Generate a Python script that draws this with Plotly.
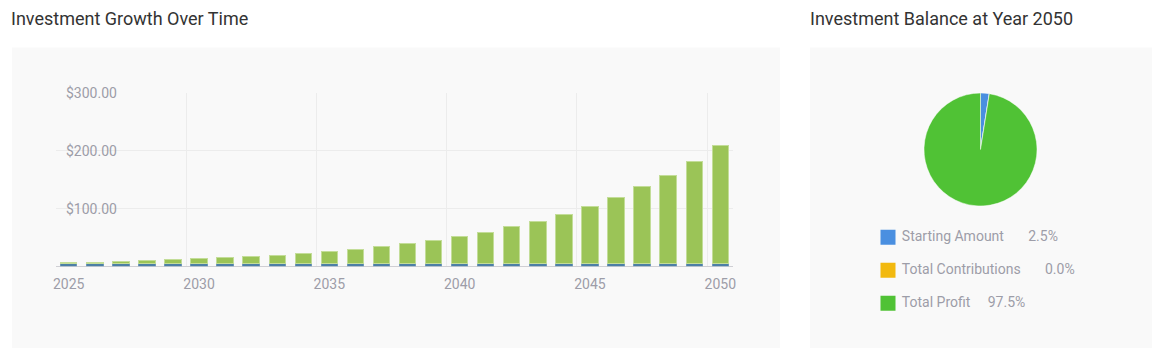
import plotly.graph_objects as go

W, H = 1155, 353

years = list(range(2025, 2051))
starting_amount = [5.25, 5.25, 5.25, 5.25, 5.25, 5.25, 5.25, 5.25, 5.25, 5.25, 5.25, 5.25, 5.25,
                   5.25, 5.25, 5.25, 5.25, 5.25, 5.25, 5.25, 5.25, 5.25, 5.25, 5.25, 5.25, 5.25]
contributions = [0, 0, 0, 0, 0, 0, 0, 0, 0, 0, 0, 0, 0, 0, 0, 0, 0, 0, 0, 0, 0, 0, 0, 0, 0, 0]
profit = [0.95, 2.15, 3.35, 4.45, 6.05, 7.75, 9.65, 11.65, 14.25, 16.75, 20.25, 24.25, 28.75,
          33.65, 39.35, 46.25, 53.95, 62.95, 73.25, 85.15, 98.35, 114.35, 132.35, 153.05, 177.05, 204.65]

x_tick_years = [2025, 2030, 2035, 2040, 2045, 2050]
y_tick_vals = [0, 100, 200, 300]
y_tick_text = ["", "$100.00", "$200.00", "$300.00"]

pie_labels = ["Starting Amount", "Total Contributions", "Total Profit"]
pie_values = [starting_amount[-1], contributions[-1], profit[-1]]
pie_colors = ["#4a8fe0", "#f2b90f", "#50c235"]
bar_colors = ["#4c7fa6", "#f2b90f", "#9bc457"]
bar_line_colors = ["#6d96b8", "#f2b90f", "#c3dd98"]

title_color = "#333333"
muted = "#9d9da8"
grid = "#ececec"
panel = "#f9f9f9"
FONT = "Roboto, 'Open Sans', Arial, sans-serif"


def px_x(v):
    return v / W


def px_y(v):
    return 1 - v / H


fig = go.Figure()

series = [("Starting Amount", starting_amount), ("Total Contributions", contributions), ("Total Profit", profit)]
for i, (name, vals) in enumerate(series):
    fig.add_trace(go.Bar(
        x=years, y=vals, name=name, marker=dict(color=bar_colors[i], line=dict(color=bar_line_colors[i], width=1)),
        showlegend=False, xaxis="x", yaxis="y",
    ))

# invisible traces so the helper axes (boundary gridlines, value labels) are drawn
fig.add_trace(go.Scatter(x=[years[0]], y=[0], mode="markers", marker=dict(opacity=0), showlegend=False,
                         hoverinfo="skip", xaxis="x2", yaxis="y"))
fig.add_trace(go.Scatter(x=[years[0]], y=[0], mode="markers", marker=dict(opacity=0), showlegend=False,
                         hoverinfo="skip", xaxis="x", yaxis="y2"))

total = sum(pie_values)
fig.add_trace(go.Pie(
    labels=pie_labels, values=pie_values, sort=False, direction="clockwise", rotation=0,
    marker=dict(colors=pie_colors, line=dict(color="rgba(255,255,255,0.8)", width=0.6)),
    textinfo="none", showlegend=False, hoverinfo="label+percent",
    domain=dict(x=[px_x(924), px_x(1037)], y=[px_y(206), px_y(93)]),
))

# legend as a scatter on its own axes
leg_text = []
gaps = [7, 7, 5]
for i, lab in enumerate(pie_labels):
    pct = 100 * pie_values[i] / total
    leg_text.append("\u00a0" + lab + "\u00a0" * gaps[i] + f"{pct:.1f}%")
fig.add_trace(go.Scatter(
    x=[0, 0, 0], y=[0, 1, 2], mode="markers+text", text=leg_text, textposition="middle right",
    textfont=dict(family=FONT, size=14, color=muted),
    marker=dict(symbol="square", size=15, color=pie_colors), showlegend=False, hoverinfo="skip",
    xaxis="x3", yaxis="y3",
))

fig.update_layout(
    width=W, height=H, margin=dict(l=0, r=0, t=0, b=0, pad=0, autoexpand=False),
    paper_bgcolor="white", plot_bgcolor="rgba(0,0,0,0)",
    barmode="stack", bargap=0.37,
    font=dict(family=FONT, color=muted, size=14),
    xaxis=dict(domain=[px_x(55.7), px_x(733.3)], range=[2024.5, 2050.5], tickvals=x_tick_years,
               showgrid=False, zeroline=False, ticks="outside", ticklen=5, tickcolor="rgba(0,0,0,0)",
               showline=False, automargin=False,
               tickfont=dict(size=14, color=muted), anchor="y"),
    xaxis2=dict(overlaying="x", range=[2024.5, 2050.5],
                tickvals=[2024.5, 2029.5, 2034.5, 2039.5, 2044.5, 2049.5, 2050.5],
                showgrid=True, gridcolor=grid, gridwidth=1, showticklabels=False, ticks="",
                zeroline=False, anchor="y", side="bottom", automargin=False),
    yaxis=dict(domain=[px_y(266.3), px_y(93.3)], range=[0, 300], tickvals=y_tick_vals,
               showticklabels=False, showgrid=True, gridcolor=grid, zeroline=True,
               zerolinecolor="#cfcfd4", zerolinewidth=1, ticks="", showline=False, anchor="x",
               automargin=False),
    yaxis2=dict(overlaying="y", range=[0, 300], tickvals=y_tick_vals, ticktext=y_tick_text,
                side="right", anchor="free", position=px_x(65), showgrid=False, zeroline=False,
                ticks="", showline=False, tickfont=dict(size=14, color=muted), automargin=False),
    xaxis3=dict(domain=[px_x(880), px_x(1150)], range=[-8, 262], visible=False, anchor="y3",
                automargin=False),
    yaxis3=dict(domain=[px_y(319.7), px_y(220.7)], range=[2.5, -0.5], visible=False, anchor="x3",
                automargin=False),
    shapes=[
        dict(type="rect", xref="paper", yref="paper", x0=px_x(12), x1=px_x(780), y0=px_y(348), y1=px_y(47.5),
             fillcolor=panel, line=dict(width=0), layer="below"),
        dict(type="rect", xref="paper", yref="paper", x0=px_x(810), x1=px_x(1152), y0=px_y(348), y1=px_y(47.5),
             fillcolor=panel, line=dict(width=0), layer="below"),
    ],
    annotations=[
        dict(text="Investment Growth Over Time", xref="paper", yref="paper", x=px_x(9), y=px_y(18),
             xanchor="left", yanchor="middle", showarrow=False,
             font=dict(family=FONT, size=18, color=title_color)),
        dict(text="Investment Balance at Year 2050", xref="paper", yref="paper", x=px_x(808), y=px_y(18),
             xanchor="left", yanchor="middle", showarrow=False,
             font=dict(family=FONT, size=18, color=title_color)),
    ],
)

fig.write_html("out.html")
